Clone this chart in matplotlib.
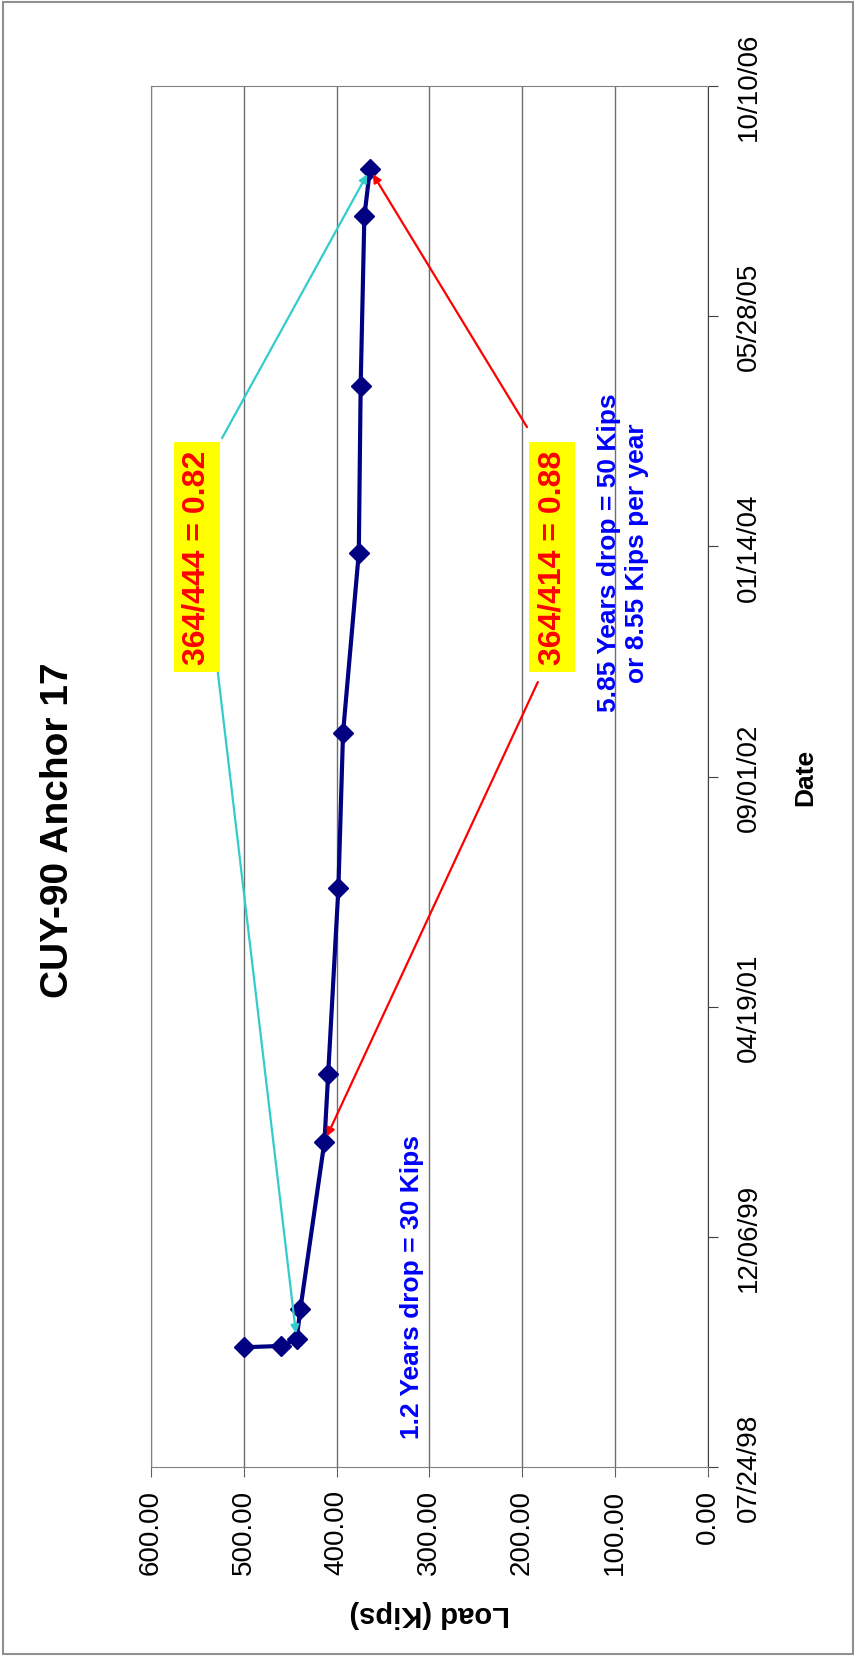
import matplotlib
matplotlib.use('Agg')
import matplotlib.pyplot as plt
import matplotlib.dates as mdates
from matplotlib.patches import Rectangle
from datetime import datetime

# data
dates = ['1999-04-10', '1999-04-13', '1999-04-28', '1999-07-02', '2000-06-30',
         '2000-11-24', '2002-01-01', '2002-12-04', '2003-12-31', '2004-12-27',
         '2005-12-31', '2006-04-12']
loads = [500, 460, 443, 439, 413, 409, 398, 393, 376, 374, 370, 364]

load_ticks = [0, 100, 200, 300, 400, 500, 600]
date_ticks = ['1998-07-24', '1999-12-06', '2001-04-19', '2002-09-01',
              '2004-01-14', '2005-05-28', '2006-10-10']

title = 'CUY-90 Anchor 17'

plt.rcParams['font.family'] = ['Liberation Sans', 'DejaVu Sans']

d = [datetime.strptime(s, '%Y-%m-%d') for s in dates]
dt = [datetime.strptime(s, '%Y-%m-%d') for s in date_ticks]

fig = plt.figure(figsize=(8.56, 16.58), dpi=100)
ax = fig.add_axes([151 / 856, 1 - 1468 / 1658, 556.6 / 856, 1381 / 1658])

# outer chart border
fig.patches.append(Rectangle((0.003, 0.002), 0.994, 0.996, transform=fig.transFigure,
                             fill=False, ec='#909090', lw=1.5))

# the chart is turned on its side: load runs right->left, date runs upward
ax.plot(loads, d, color='#000080', lw=3, marker='D', ms=10.5,
        mfc='#000080', mec='#000080', zorder=3)

ax.set_xlim(600, 0)
ax.set_ylim(dt[0], dt[-1])
ax.set_xticks(load_ticks)
ax.set_xticklabels(['%.2f' % v for v in load_ticks], rotation=90, fontsize=20)
ax.set_yticks(dt)
ax.yaxis.set_major_formatter(mdates.DateFormatter('%m/%d/%y'))
ax.yaxis.tick_right()
ax.tick_params(axis='y', labelrotation=90, labelsize=20, length=7, pad=13,
               color='#404040')
ax.tick_params(axis='x', length=7, pad=9, color='#606060')
for lbl in ax.get_yticklabels():
    lbl.set_va('center')
    lbl.set_ha('left')

ax.grid(axis='x', color='#6e6e6e', lw=1)
ax.set_axisbelow(True)
for side in ['top', 'left', 'bottom']:
    ax.spines[side].set_color('#808080')
ax.spines['right'].set_color('#404040')

ax.set_xlabel('Load (Kips)', rotation=180, fontsize=21, fontweight='bold', va='center')
ax.xaxis.set_label_coords(0.5, -0.1057)
ax.set_ylabel('Date', rotation=90, fontsize=19, fontweight='bold', va='center')
ax.yaxis.set_label_coords(1.175, 0.5)

fig.text(58 / 856, 1 - 830 / 1658, title, rotation=90, fontsize=28,
         fontweight='bold', ha='center', va='center')

# ratio boxes
box = dict(boxstyle='square,pad=0.25', fc='#FFFF00', ec='none')
ax.text(0.082, 0.659, '364/444 = 0.82', transform=ax.transAxes, rotation=90,
        color='#FF0000', fontsize=23, fontweight='bold', ha='center', va='center',
        bbox=box, zorder=5)
ax.text(0.7205, 0.659, '364/414 = 0.88', transform=ax.transAxes, rotation=90,
        color='#FF0000', fontsize=23, fontweight='bold', ha='center', va='center',
        bbox=box, zorder=5)

ax.text(0.848, 0.6626, '5.85 Years drop = 50 Kips\nor 8.55 Kips per year',
        transform=ax.transAxes, rotation=90, color='#0000FF', fontsize=19,
        fontweight='bold', ha='center', va='center', multialignment='center',
        linespacing=1.25, zorder=5)
ax.text(0.469, 0.131, '1.2 Years drop = 30 Kips', transform=ax.transAxes,
        rotation=90, color='#0000FF', fontsize=19, fontweight='bold',
        ha='center', va='center', zorder=5)

# arrows from the boxes to the points
def arrow(i, start, color):
    ax.annotate('', xy=(loads[i], mdates.date2num(d[i])), xytext=start,
                textcoords='axes fraction',
                arrowprops=dict(arrowstyle='-|>', color=color, lw=1.6,
                                shrinkA=0, shrinkB=4, mutation_scale=12),
                zorder=4)

arrow(11, (0.1276, 0.745), '#33CCCC')
arrow(2, (0.120, 0.5757), '#33CCCC')
arrow(11, (0.6755, 0.753), '#FF0000')
arrow(4, (0.695, 0.5684), '#FF0000')

fig.savefig('out.png', dpi=100)
